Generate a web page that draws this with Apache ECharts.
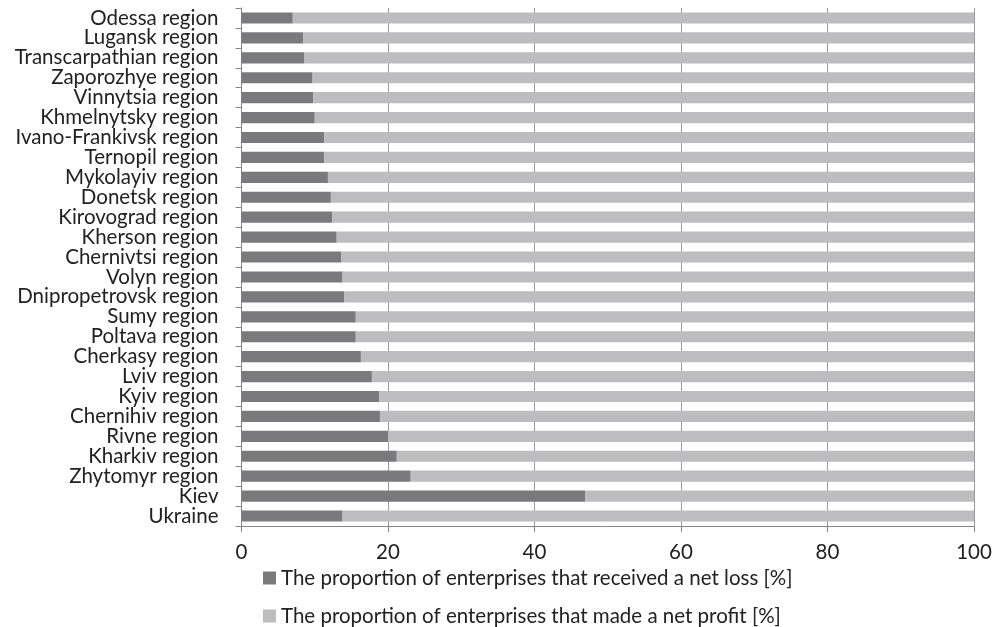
<!DOCTYPE html>
<html>
<head>
<meta charset="utf-8">
<script src="https://cdn.jsdelivr.net/npm/echarts@6/dist/echarts.min.js"></script>
<style>html,body{margin:0;padding:0;background:#fff}#c{width:998px;height:627px}</style>
</head>
<body>
<div id="c"></div>
<script>
// bottom-to-top order
const categories = ["Ukraine","Kiev","Zhytomyr region","Kharkiv region","Rivne region","Chernihiv region","Kyiv region","Lviv region","Cherkasy region","Poltava region","Sumy region","Dnipropetrovsk region","Volyn region","Chernivtsi region","Kherson region","Kirovograd region","Donetsk region","Mykolayiv region","Ternopil region","Ivano-Frankivsk region","Khmelnytsky region","Vinnytsia region","Zaporozhye region","Transcarpathian region","Lugansk region","Odessa region"];
const lossValues = [13.8,46.9,23.1,21.2,20.0,18.9,18.8,17.8,16.3,15.6,15.6,14.0,13.8,13.6,13.0,12.4,12.2,11.8,11.3,11.3,10.0,9.8,9.7,8.6,8.4,7.0];
const profitValues = [86.2,53.1,76.9,78.8,80.0,81.1,81.2,82.2,83.7,84.4,84.4,86.0,86.2,86.4,87.0,87.6,87.8,88.2,88.7,88.7,90.0,90.2,90.3,91.4,91.6,93.0];
const xTicks = [0,20,40,60,80,100];
const seriesNames = ["The proportion of enterprises that received a net loss [%]","The proportion of enterprises that made a net profit [%]"];

const chart = echarts.init(document.getElementById('c'));
const font = 'Lato, "Open Sans", sans-serif';
chart.setOption({
  animation:false,
  textStyle:{fontFamily:font},
  grid:{left:241.5,right:24,top:8,bottom:101,containLabel:false},
  legend:{
    orient:'vertical', left:263, top:567, itemGap:16, padding:0,
    itemWidth:13, itemHeight:13, icon:'rect',
    textStyle:{fontSize:20.5,color:'#222',fontFamily:font,lineHeight:22},
    data:seriesNames
  },
  xAxis:{
    type:'value', min:xTicks[0], max:xTicks[xTicks.length-1], interval:20,
    axisLine:{show:true,lineStyle:{color:'#868686'}},
    axisTick:{show:true,length:6,lineStyle:{color:'#868686'}},
    axisLabel:{fontSize:20.5,color:'#222',margin:16,fontFamily:font},
    splitLine:{show:true,lineStyle:{color:'#9a9a9a',width:1}}
  },
  yAxis:{
    type:'category', data:categories,
    axisLine:{show:true,lineStyle:{color:'#868686'}},
    axisTick:{show:true,length:6,lineStyle:{color:'#868686'}},
    axisLabel:{fontSize:20.5,color:'#222',margin:23,fontFamily:font,lineHeight:20,interval:0},
    splitLine:{show:false}
  },
  series:[
    {name:seriesNames[0],type:'bar',stack:'s',data:lossValues,barCategoryGap:'44%',itemStyle:{color:'#7a7a7d'}},
    {name:seriesNames[1],type:'bar',stack:'s',data:profitValues,barCategoryGap:'44%',itemStyle:{color:'#bdbdc0'}}
  ]
});
</script>
</body>
</html>
